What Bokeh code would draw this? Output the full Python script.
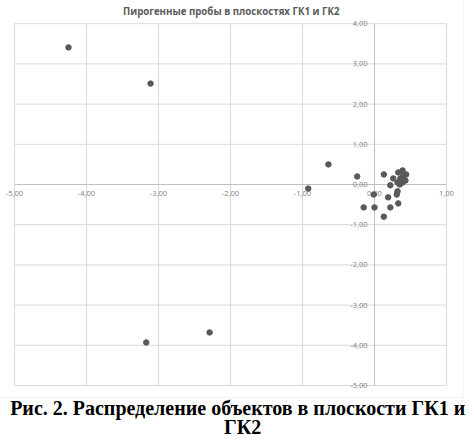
from bokeh.plotting import figure
from bokeh.models import ColumnDataSource, Label, Range1d, BoxAnnotation
from bokeh.core.properties import value
from bokeh.embed import file_html
from bokeh.resources import INLINE

# --- data ---
gk1 = [-4.25, -3.11, -3.17, -2.29, -0.64, -0.92, -0.24, 0.13, 0.22, -0.01,
       0.19, 0.31, 0.32, 0.33, -0.15, 0.00, 0.22, 0.13,
       0.33, 0.39, 0.40, 0.36, 0.32, 0.43, 0.35, 0.26, 0.44, 0.39]
gk2 = [3.41, 2.51, -3.93, -3.68, 0.50, -0.10, 0.20, 0.25, -0.02, -0.25,
       -0.32, -0.25, -0.17, -0.47, -0.57, -0.57, -0.57, -0.80,
       0.30, 0.35, 0.22, 0.15, 0.05, 0.10, 0.00, 0.15, 0.25, 0.05]

x_ticks = [-5, -4, -3, -2, -1, 0, 1]
x_tick_labels = ["-5,00", "-4,00", "-3,00", "-2,00", "-1,00", "0,00", "1,00"]
y_ticks = [4, 3, 2, 1, 0, -1, -2, -3, -4, -5]
y_tick_labels = ["4,00", "3,00", "2,00", "1,00", "0,00", "-1,00", "-2,00", "-3,00", "-4,00", "-5,00"]

title_text = "Пирогенные пробы в плоскостях ГК1 и ГК2"
caption_1 = "Рис. 2. Распределение объектов в плоскости ГК1 и"
caption_2 = "ГК2"

x_min, x_max = min(x_ticks), max(x_ticks)
y_min, y_max = min(y_ticks), max(y_ticks)

# frame covers the whole canvas; ranges chosen so the plot area sits where it does in the picture
p = figure(width=474, height=441, output_backend="svg", toolbar_location=None,
           x_axis_location=None, y_axis_location=None,
           x_range=Range1d(-5.194, 1.389), y_range=Range1d(-6.393, 4.577),
           min_border_left=0, min_border_right=0, min_border_top=0, min_border_bottom=0,
           background_fill_color="white", border_fill_color="white")
p.outline_line_color = None
p.xgrid.visible = False
p.ygrid.visible = False

# chart-area border
p.add_layout(BoxAnnotation(left=-6, right=1.236, top=5, bottom=-5.30, fill_alpha=0,
                           line_color="#d9d9d9", line_width=1))

# gridlines
p.segment(x0=x_ticks, x1=x_ticks, y0=[y_min] * len(x_ticks), y1=[y_max] * len(x_ticks),
          line_color="#d9d9d9", line_width=1)
p.segment(x0=[x_min] * len(y_ticks), x1=[x_max] * len(y_ticks), y0=y_ticks, y1=y_ticks,
          line_color="#d9d9d9", line_width=1)
# axes through zero
p.segment(x0=[x_min, 0], x1=[x_max, 0], y0=[0, y_min], y1=[0, y_max],
          line_color="#bfbfbf", line_width=1)

xs = ColumnDataSource(dict(x=x_ticks, y=[0] * len(x_ticks), t=x_tick_labels))
ys = ColumnDataSource(dict(x=[0] * len(y_ticks), y=y_ticks, t=y_tick_labels))
p.text(x="x", y="y", text="t", source=xs, text_align="center", text_baseline="top",
       y_offset=7, text_font=value("Open Sans"), text_font_size="7.5px", text_color="#7f7f7f")
p.text(x="x", y="y", text="t", source=ys, text_align="right", text_baseline="middle",
       x_offset=-7, text_font=value("Open Sans"), text_font_size="7.5px", text_color="#7f7f7f")

src = ColumnDataSource(dict(x=gk1, y=gk2))
p.scatter(x="x", y="y", source=src, size=5.5, fill_color="#595959", line_color="#595959")

p.add_layout(Label(x=-1.99, y=4.30, text=title_text,
                   text_align="center", text_baseline="middle", text_font="Open Sans",
                   text_font_size="9.7px", text_font_style="bold", text_color="#595959"))
p.add_layout(Label(x=-1.90, y=-5.572, text=caption_1,
                   text_align="center", text_baseline="alphabetic", text_font="Liberation Serif",
                   text_font_size="20px", text_font_style="bold", text_color="black"))
p.add_layout(Label(x=-1.83, y=-6.020, text=caption_2,
                   text_align="center", text_baseline="alphabetic", text_font="Liberation Serif",
                   text_font_size="20px", text_font_style="bold", text_color="black"))

open("out.html", "w").write(file_html(p, INLINE))
